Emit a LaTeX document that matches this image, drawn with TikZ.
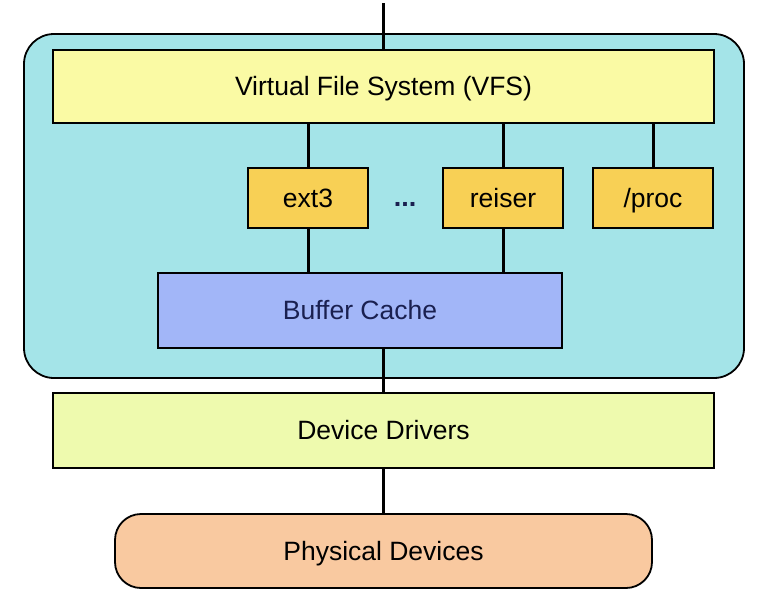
\documentclass[tikz,border=0pt]{standalone}
\usepackage{fontspec}
\setmainfont{Liberation Sans}
\definecolor{outercol}{HTML}{A4E4E8}
\definecolor{vfscol}{HTML}{FAFAA4}
\definecolor{fscol}{HTML}{F8D055}
\definecolor{bufcol}{HTML}{A2B6F8}
\definecolor{drvcol}{HTML}{EEFAAE}
\definecolor{physcol}{HTML}{F9C9A0}
\definecolor{navy}{HTML}{1A2050}
\begin{document}
\begin{tikzpicture}[x=1pt,y=-1pt,
  box/.style={draw=black,line width=1.8pt,inner sep=0pt,font=\fontsize{26.5}{30}\selectfont,text height=19pt,text depth=1pt},
  conn/.style={line width=3pt,black}]
\useasboundingbox (0,0) rectangle (766,600);
\fill[white] (0,0) rectangle (766,600);
% outer container
\node[draw=black,line width=1.8pt,fill=outercol,rounded corners=30pt,minimum width=720pt,minimum height=344pt,inner sep=0pt] (outer) at (384,206) {};
\coordinate (topend) at (383,3);
\node[box,fill=vfscol,minimum width=661pt,minimum height=73pt] (vfs) at (383.5,86.5) {Virtual File System (VFS)};
\node[box,fill=fscol,minimum width=120pt,minimum height=60pt] (ext3) at (308,198) {ext3};
\node[box,fill=fscol,minimum width=120pt,minimum height=60pt] (reiser) at (503,198) {reiser};
\node[box,fill=fscol,minimum width=120pt,minimum height=60pt] (proc) at (653,198) {/proc};
\node[font=\fontsize{27}{30}\selectfont\bfseries,text=navy,inner sep=0pt] (dots) at (405,204) {...};
\node[box,fill=bufcol,text=navy,minimum width=404pt,minimum height=75pt] (buf) at (360,310.5) {Buffer Cache};
\node[box,fill=drvcol,minimum width=661pt,minimum height=75pt] (drv) at (383.5,430.5) {Device Drivers};
\node[box,fill=physcol,rounded corners=26pt,minimum width=537pt,minimum height=74pt] (phys) at (383.5,551) {Physical Devices};
% connectors
\draw[conn] (topend) -- (vfs.north -| topend);
\draw[conn] (vfs.south -| ext3) -- (ext3.north);
\draw[conn] (vfs.south -| reiser) -- (reiser.north);
\draw[conn] (vfs.south -| proc) -- (proc.north);
\draw[conn] (ext3.south) -- (buf.north -| ext3);
\draw[conn] (reiser.south) -- (buf.north -| reiser);
\draw[conn] (buf.south -| topend) -- (drv.north -| topend);
\draw[conn] (drv.south -| topend) -- (phys.north -| topend);
\end{tikzpicture}
\end{document}
